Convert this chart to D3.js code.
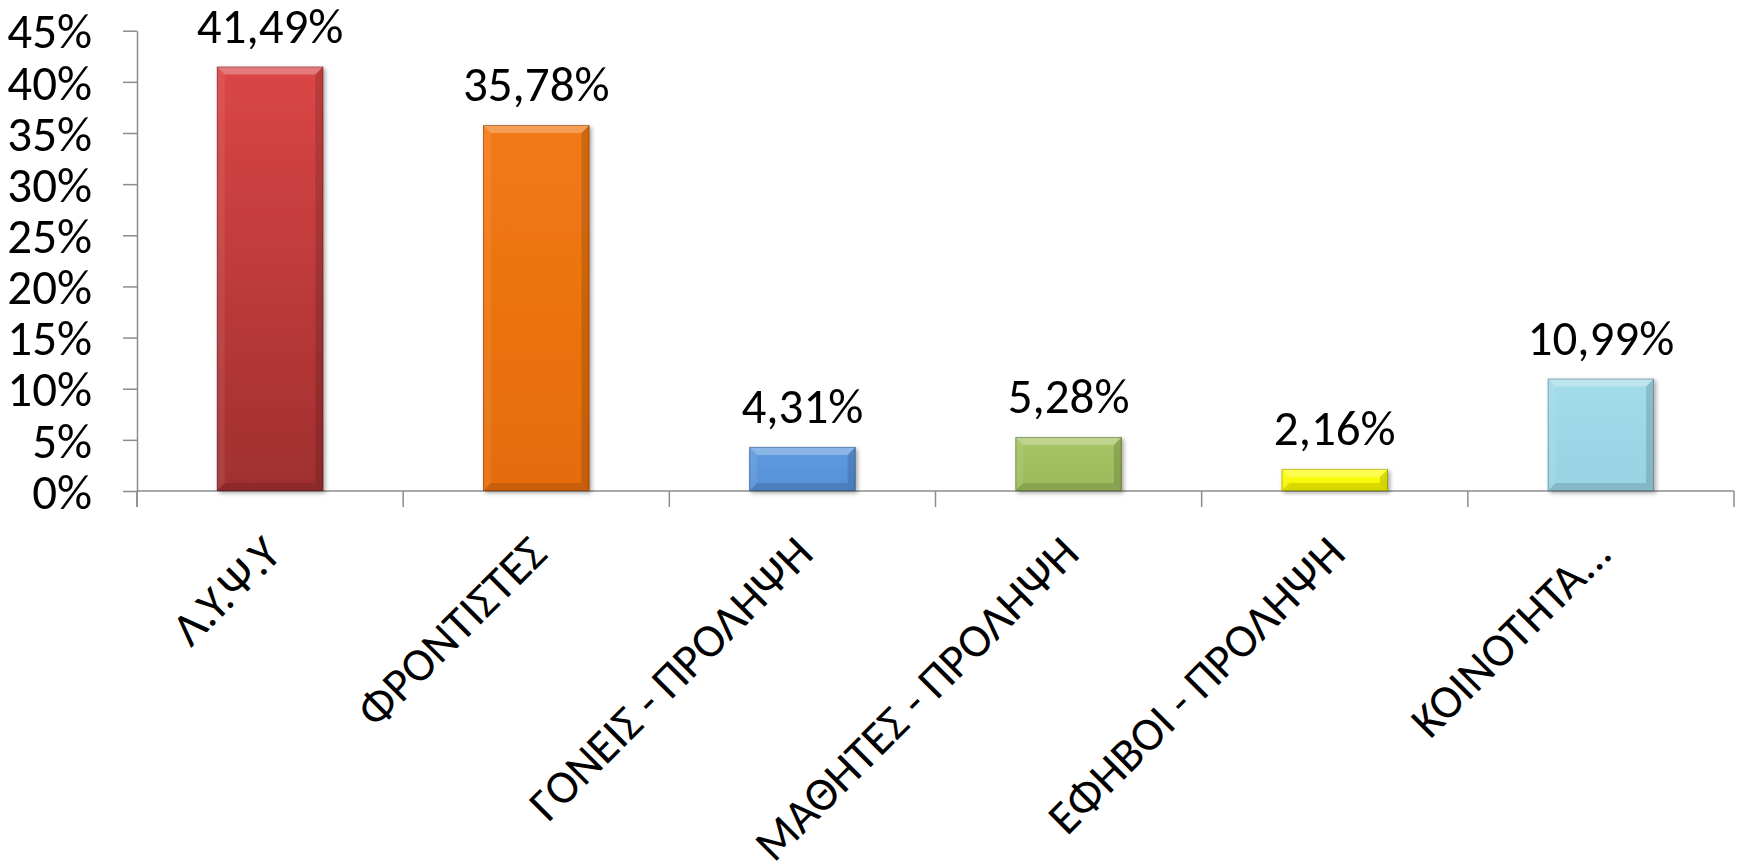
<!DOCTYPE html>
<html>
<head>
<meta charset="utf-8">
<script src="https://cdn.jsdelivr.net/npm/d3@7/dist/d3.min.js"></script>
<style>
  html, body { margin: 0; padding: 0; background: #ffffff; }
  svg { display: block; }
  text { font-family: Carlito, Calibri, Lato, "Open Sans", sans-serif; fill: #000; }
</style>
</head>
<body>
<svg id="chart" width="1738" height="867"></svg>
<script>
const categories = ["Λ.Υ.Ψ.Υ", "ΦΡΟΝΤΙΣΤΕΣ", "ΓΟΝΕΙΣ - ΠΡΟΛΗΨΗ", "ΜΑΘΗΤΕΣ - ΠΡΟΛΗΨΗ", "ΕΦΗΒΟΙ - ΠΡΟΛΗΨΗ", "ΚΟΙΝΟΤΗΤΑ..."];
const values = [41.49, 35.78, 4.31, 5.28, 2.16, 10.99];
const valueLabels = ["41,49%", "35,78%", "4,31%", "5,28%", "2,16%", "10,99%"];
const yTicks = [0, 5, 10, 15, 20, 25, 30, 35, 40, 45];
const barColors = [
  ["#db4646", "#a02f2f"],
  ["#f27a14", "#e56c0c"],
  ["#5f9be0", "#5690d6"],
  ["#a6c566", "#9cba5a"],
  ["#ffff10", "#f4f400"],
  ["#a2dbea", "#98d2e3"]
];

const svg = d3.select("#chart");
const margin = { left: 137, right: 4 };
const W = 1738, H = 867;
const x = d3.scaleBand().domain(categories).range([margin.left, W - margin.right]).paddingInner(0.6).paddingOuter(0.3);
const y = d3.scaleLinear().domain([0, 45]).range([491, 30.7]);
const fontSize = 49;
const catFontSize = 47;

const defs = svg.append("defs");
barColors.forEach((c, i) => {
  const g = defs.append("linearGradient").attr("id", "g" + i).attr("x1", 0).attr("y1", 0).attr("x2", 0).attr("y2", 1);
  g.append("stop").attr("offset", "0%").attr("stop-color", c[0]);
  g.append("stop").attr("offset", "100%").attr("stop-color", c[1]);
});
const f = defs.append("filter").attr("id", "shadow").attr("x", "-20%").attr("y", "-20%").attr("width", "140%").attr("height", "140%");
f.append("feDropShadow").attr("dx", 2).attr("dy", 2).attr("stdDeviation", 2).attr("flood-color", "#000").attr("flood-opacity", 0.35);

// axes
const yAxis = d3.axisLeft(y).tickValues(yTicks).tickSize(14).tickSizeOuter(0).tickPadding(31).tickFormat(d => d + "%");
const gy = svg.append("g").attr("transform", `translate(${margin.left},0)`).call(yAxis);
gy.select(".domain").attr("stroke", "#8c8c8c").attr("stroke-width", 1.5);
gy.selectAll(".tick line").attr("stroke", "#8c8c8c").attr("stroke-width", 1.5);
gy.selectAll(".tick text").style("font-size", fontSize + "px").attr("dy", "0.35em").attr("fill", "#000");
svg.append("line").attr("x1", margin.left).attr("x2", margin.left).attr("y1", y(0)).attr("y2", y(0) + 16)
  .attr("stroke", "#8c8c8c").attr("stroke-width", 1.5);

// x axis baseline and boundary ticks
const step = x.step();
const boundaries = d3.range(categories.length + 1).map(i => margin.left + i * step);
svg.append("line").attr("x1", margin.left).attr("x2", W - margin.right).attr("y1", y(0)).attr("y2", y(0))
  .attr("stroke", "#8c8c8c").attr("stroke-width", 1.5);
svg.selectAll(".xt").data(boundaries).enter().append("line")
  .attr("x1", d => d).attr("x2", d => d).attr("y1", y(0)).attr("y2", y(0) + 16)
  .attr("stroke", "#8c8c8c").attr("stroke-width", 1.5);

// bars
const bars = svg.append("g").selectAll("g.bar").data(values).enter().append("g").attr("class", "bar");
bars.each(function(v, i) {
  const g = d3.select(this);
  const x0 = x(categories[i]), w = x.bandwidth();
  const y0 = y(v), y1 = y(0), h = y1 - y0;
  const b = Math.min(8, h / 2.2);
  g.append("rect").attr("x", x0).attr("y", y0).attr("width", w).attr("height", h)
    .attr("fill", `url(#g${i})`).attr("filter", "url(#shadow)");
  g.append("polygon").attr("points", [[x0, y0], [x0 + w, y0], [x0 + w - b, y0 + b], [x0 + b, y0 + b]].join(" "))
    .attr("fill", "#fff").attr("opacity", 0.28);
  g.append("polygon").attr("points", [[x0, y0], [x0 + b, y0 + b], [x0 + b, y1 - b], [x0, y1]].join(" "))
    .attr("fill", "#fff").attr("opacity", 0.08);
  g.append("polygon").attr("points", [[x0 + w, y0], [x0 + w, y1], [x0 + w - b, y1 - b], [x0 + w - b, y0 + b]].join(" "))
    .attr("fill", "#000").attr("opacity", 0.14);
  g.append("polygon").attr("points", [[x0, y1], [x0 + b, y1 - b], [x0 + w - b, y1 - b], [x0 + w, y1]].join(" "))
    .attr("fill", "#000").attr("opacity", 0.12);
  g.append("rect").attr("x", x0 + 0.5).attr("y", y0 + 0.5).attr("width", w - 1).attr("height", h - 1)
    .attr("fill", "none").attr("stroke", "#000").attr("stroke-opacity", 0.25).attr("stroke-width", 1);
});

// value labels
svg.append("g").selectAll("text").data(values).enter().append("text")
  .attr("x", (d, i) => x(categories[i]) + x.bandwidth() / 2)
  .attr("y", d => y(d) - 24)
  .attr("text-anchor", "middle")
  .style("font-size", fontSize + "px")
  .text((d, i) => valueLabels[i]);

// category labels
svg.append("g").selectAll("text").data(categories).enter().append("text")
  .attr("transform", d => `translate(${x(d) + x.bandwidth() / 2 + 13},556) rotate(-45)`)
  .attr("text-anchor", "end")
  .style("font-size", catFontSize + "px")
  .text(d => d);
</script>
</body>
</html>
